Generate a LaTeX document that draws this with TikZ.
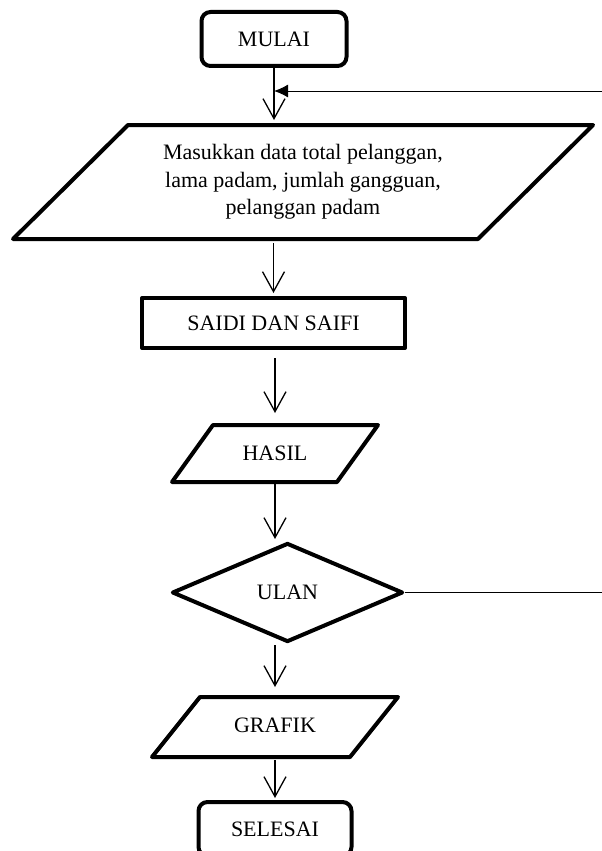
\documentclass[tikz,border=0pt]{standalone}
\usepackage{fontspec}
\setmainfont{Liberation Serif}
\usetikzlibrary{shapes.geometric,arrows.meta}
\begin{document}
\begin{tikzpicture}[x=1pt,y=-1pt,
  txt/.style={inner sep=0pt,outer sep=0pt,align=center,
    font=\fontsize{22}{27.5}\selectfont},
  box/.style={txt,draw,line width=4pt,line join=round,outer sep=2pt},
  border/.style={line width=4pt,line join=round},
  term/.style={box,rectangle,rounded corners=9pt},
  proc/.style={box,rectangle},
  iotext/.style={txt,rectangle},
  dec/.style={box,diamond},
  arr/.style={line width=1.3pt,-{Straight Barb[length=20pt,width=22pt,line width=1.3pt]}},
  fb/.style={line width=1pt},
]
\useasboundingbox (0,0) rectangle (602,851);

\node[term, minimum width=145, minimum height=54] (mulai) at (274,39) {MULAI};

\node[iotext, minimum width=580, minimum height=114] (input) at (303,182)
      {Masukkan data total pelanggan,\\lama padam, jumlah gangguan,\\pelanggan padam};
\draw[border] ([xshift=115pt]input.north west) -- (input.north east)
  -- ([xshift=-115pt]input.south east) -- (input.south west) -- cycle;

\node[proc, minimum width=263, minimum height=50] (saidi) at (273.5,323) {SAIDI DAN SAIFI};

\node[iotext, minimum width=206, minimum height=57] (hasil) at (275,453.5) {HASIL};
\draw[border] ([xshift=41pt]hasil.north west) -- (hasil.north east)
  -- ([xshift=-41pt]hasil.south east) -- (hasil.south west) -- cycle;

\node[dec, minimum width=231, minimum height=99] (ulan) at (287.5,592.5) {\raisebox{-2pt}{ULAN}};

\node[iotext, minimum width=246, minimum height=60] (grafik) at (275,727) {\raisebox{3pt}{GRAFIK}};
\draw[border] ([xshift=48pt]grafik.north west) -- (grafik.north east)
  -- ([xshift=-48pt]grafik.south east) -- (grafik.south west) -- cycle;

\node[term, minimum width=153, minimum height=54] (selesai) at (275,829) {\raisebox{-3pt}{SELESAI}};

\coordinate (fbtop) at (620,91);

\draw[arr, shorten >=5pt] (mulai.south) -- (mulai.south |- input.north);
\draw[arr, shorten <=4pt, shorten >=3pt] (saidi.north |- input.south) -- (saidi.north);
\draw[arr, shorten <=8pt, shorten >=12pt] (hasil.north |- saidi.south) -- (hasil.north);
\draw[arr, shorten <=2pt, shorten >=2pt] (hasil.south) -- (hasil.south |- ulan.north);
\draw[arr, shorten <=1pt, shorten >=10pt] (grafik.north |- ulan.south) -- (grafik.north);
\draw[arr, shorten <=3pt, shorten >=2pt] (grafik.south) -- (selesai.north);

\draw[fb, -{Latex[length=14pt,width=13pt]}]
  (ulan.east) -- (ulan.east -| fbtop) -- (fbtop) -- (mulai.south |- fbtop);
\end{tikzpicture}
\end{document}
